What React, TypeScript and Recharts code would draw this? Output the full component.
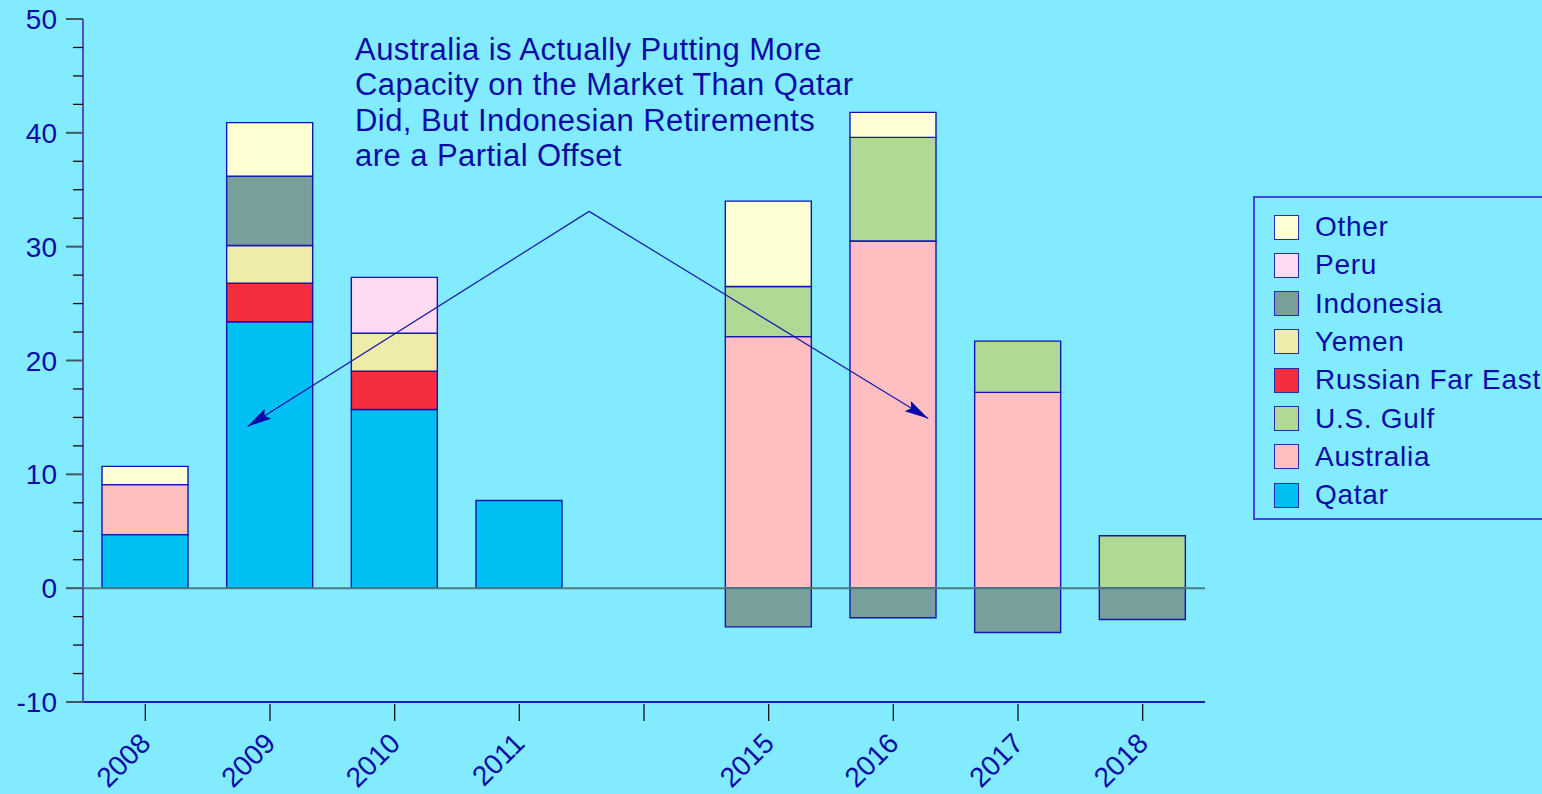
import React from 'react';
import { BarChart, Bar, XAxis, YAxis, ReferenceLine } from 'recharts';

// ---- data ----
const categories = ['2008', '2009', '2010', '2011', '', '2015', '2016', '2017', '2018'];
const qatar = [4.7, 23.4, 15.7, 7.7, 0, 0, 0, 0, 0];
const australia = [4.4, 0, 0, 0, 0, 22.1, 30.5, 17.2, 0];
const usGulf = [0, 0, 0, 0, 0, 4.4, 9.1, 4.5, 4.6];
const russianFarEast = [0, 3.4, 3.35, 0, 0, 0, 0, 0, 0];
const yemen = [0, 3.3, 3.35, 0, 0, 0, 0, 0, 0];
const indonesia = [0, 6.1, 0, 0, 0, -3.4, -2.6, -3.9, -2.75];
const peru = [0, 0, 4.9, 0, 0, 0, 0, 0, 0];
const other = [1.6, 4.7, 0, 0, 0, 7.5, 2.2, 0, 0];

const yTicks = [-10, 0, 10, 20, 30, 40, 50];
const yMinorTicks = [-10, -7.5, -5, -2.5, 0, 2.5, 5, 7.5, 10, 12.5, 15, 17.5, 20, 22.5, 25, 27.5, 30, 32.5, 35, 37.5, 40, 42.5, 45, 47.5, 50];

const annotationLines = [
  'Australia is Actually Putting More',
  'Capacity on the Market Than Qatar',
  'Did, But Indonesian Retirements',
  'are a Partial Offset',
];
// arrow anchors in data units: [category position, value]
const arrowApex = [3.56, 33.1];
const arrowLeftTip = [0.82, 14.2];
const arrowRightTip = [6.28, 14.9];

const series = [
  { key: 'qatar', name: 'Qatar', values: qatar, color: '#00BFF3' },
  { key: 'australia', name: 'Australia', values: australia, color: '#FFBEC0' },
  { key: 'usGulf', name: 'U.S. Gulf', values: usGulf, color: '#B0D995' },
  { key: 'rfe', name: 'Russian Far East', values: russianFarEast, color: '#F42E3F' },
  { key: 'yemen', name: 'Yemen', values: yemen, color: '#EDECA8' },
  { key: 'indonesia', name: 'Indonesia', values: indonesia, color: '#799F9B' },
  { key: 'peru', name: 'Peru', values: peru, color: '#FFDBF3' },
  { key: 'other', name: 'Other', values: other, color: '#FFFFD4' },
];

const data = categories.map((year, i) => {
  const row: Record<string, any> = { year };
  series.forEach((s) => {
    row[s.key] = s.values[i];
  });
  return row;
});

// ---- layout ----
const W = 1542;
const H = 794;
const BG = '#82EBFE';
const TEXT = '#0B0BA6';
const FONT = '"Liberation Sans", Arial, sans-serif';
const MARGIN = { top: 19, right: 337, bottom: 0, left: 0 };
const Y_AXIS_W = 83;
const X_AXIS_H = 92;
const Y_DOMAIN: [number, number] = [-10, 50];

const plotLeft = MARGIN.left + Y_AXIS_W;
const plotTop = MARGIN.top;
const plotW = W - MARGIN.right - plotLeft;
const plotH = H - MARGIN.bottom - X_AXIS_H - plotTop;
const px = (pos: number) => plotLeft + ((pos + 0.5) * plotW) / categories.length;
const py = (v: number) => plotTop + ((Y_DOMAIN[1] - v) / (Y_DOMAIN[1] - Y_DOMAIN[0])) * plotH;

const YTick = (props: any) => {
  const { x, y, payload } = props;
  const v = payload.value;
  const major = yTicks.includes(v);
  return (
    <g>
      <line x1={x - (major ? 17 : 10)} x2={x} y1={y} y2={y} stroke={major ? '#3d5a60' : '#111'} strokeWidth={major ? 2 : 1.3} />
      {major && (
        <text x={x - 26} y={y} dy="0.36em" textAnchor="end" fill={TEXT} fontSize={28} fontFamily={FONT}>
          {v}
        </text>
      )}
    </g>
  );
};

const XTick = (props: any) => {
  const { x, y, payload } = props;
  const ax = x + 7;
  const ay = y + 41;
  return (
    <g>
      <line x1={x} x2={x} y1={y} y2={y + 17} stroke="#111" strokeWidth={1.3} />
      {payload.value !== '' && (
        <text x={ax} y={ay} textAnchor="end" fill={TEXT} fontSize={28} fontFamily={FONT} transform={`rotate(-45, ${ax}, ${ay})`}>
          {payload.value}
        </text>
      )}
    </g>
  );
};

export default function App() {
  const legendItems = [...series].reverse();
  return (
    <div style={{ position: 'fixed', left: 0, top: 0, width: W, height: H, background: BG, overflow: 'hidden' }}>
      <BarChart width={W} height={H} data={data} margin={MARGIN} stackOffset="sign" barSize={86}>
        <XAxis
          dataKey="year"
          height={X_AXIS_H}
          interval={0}
          tickLine={false}
          tickSize={0}
          axisLine={{ stroke: '#1c1cb8', strokeWidth: 2 }}
          tick={<XTick />}
        />
        <XAxis xAxisId="top" dataKey="year" orientation="top" height={0} tick={false} tickLine={false} axisLine={{ stroke: '#1c1cb8', strokeWidth: 1.5 }} />
        <YAxis
          type="number"
          domain={Y_DOMAIN}
          ticks={yMinorTicks}
          interval={0}
          width={Y_AXIS_W}
          tickLine={false}
          tickSize={0}
          tickMargin={0}
          axisLine={{ stroke: '#5050c8', strokeWidth: 2 }}
          tick={<YTick />}
        />
        <YAxis yAxisId="right" orientation="right" type="number" domain={Y_DOMAIN} width={0} tick={false} tickLine={false} axisLine={{ stroke: '#1c1cb8', strokeWidth: 2 }} />
        <ReferenceLine y={0} stroke="#4a7d82" strokeWidth={2} />
        {series.map((s) => (
          <Bar
            key={s.key}
            dataKey={s.key}
            name={s.name}
            stackId="a"
            fill={s.color}
            stroke="#1414b0"
            strokeWidth={1.4}
            isAnimationActive={false}
          />
        ))}
      </BarChart>

      <svg width={W} height={H} style={{ position: 'absolute', left: 0, top: 0, pointerEvents: 'none' }}>
        <defs>
          <marker id="ah" markerUnits="userSpaceOnUse" markerWidth={26} markerHeight={16} refX={24} refY={8} orient="auto">
            <path d="M0,2 L24,8 L0,14 L4,8 z" fill="#0a0aa8" />
          </marker>
        </defs>
        <line
          x1={px(arrowApex[0])}
          y1={py(arrowApex[1])}
          x2={px(arrowLeftTip[0])}
          y2={py(arrowLeftTip[1])}
          stroke="#1a1ab0"
          strokeWidth={1.2}
          markerEnd="url(#ah)"
        />
        <line
          x1={px(arrowApex[0])}
          y1={py(arrowApex[1])}
          x2={px(arrowRightTip[0])}
          y2={py(arrowRightTip[1])}
          stroke="#1a1ab0"
          strokeWidth={1.2}
          markerEnd="url(#ah)"
        />
        {annotationLines.map((t, i) => (
          <text key={i} x={355} y={60 + i * 35.3} fill={TEXT} fontSize={31} letterSpacing={0.45} fontFamily={FONT}>
            {t}
          </text>
        ))}
      </svg>

      <div
        style={{
          position: 'absolute',
          left: 1253,
          top: 196,
          width: 320,
          height: 324,
          border: '2px solid #4646dc',
          boxSizing: 'border-box',
        }}
      >
        {legendItems.map((s, i) => (
          <div
            key={s.key}
            style={{ position: 'absolute', left: 19, top: 16 + i * 38.3, height: 26, display: 'flex', alignItems: 'center' }}
          >
            <div style={{ width: 25, height: 25, background: s.color, border: '1.5px solid #2a2ab0', boxSizing: 'border-box' }} />
            <span
              style={{
                marginLeft: 16,
                fontFamily: FONT,
                fontSize: 28,
                letterSpacing: 0.7,
                color: TEXT,
                whiteSpace: 'nowrap',
                lineHeight: '26px',
              }}
            >
              {s.name}
            </span>
          </div>
        ))}
      </div>
    </div>
  );
}
